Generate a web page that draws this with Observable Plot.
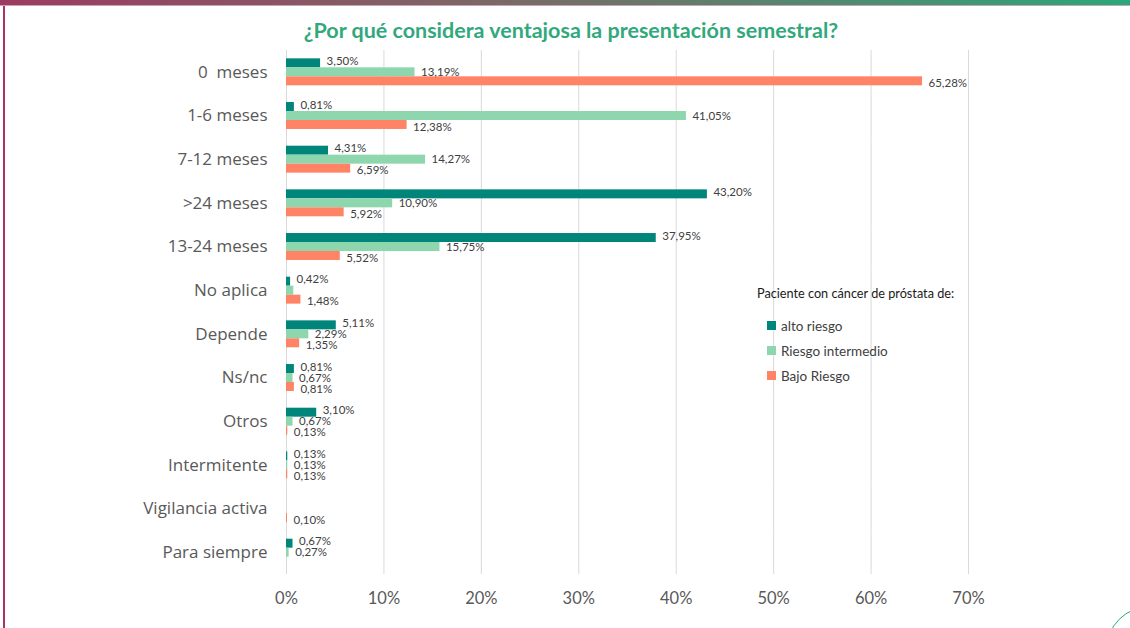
<!DOCTYPE html>
<html>
<head>
<meta charset="utf-8">
<script src="https://cdn.jsdelivr.net/npm/d3@7"></script>
<script src="https://cdn.jsdelivr.net/npm/@observablehq/plot@0.6"></script>
<style>
  html, body { margin: 0; padding: 0; background: #fff; }
  #wrap { position: relative; width: 1130px; height: 628px; overflow: hidden; background: #fff; font-family: Lato, "Open Sans", sans-serif; }
  #topbar { position: absolute; left: 0; top: 0; width: 1130px; height: 6px; background: linear-gradient(to right, #9c3b62, #7a6a66 45%, #2aa87a); border-bottom: 1px solid #c9a3b4; box-sizing: border-box; }
  #leftline { position: absolute; left: 3px; top: 6px; width: 1.5px; height: 622px; background: #a8336a; }
  #corner { position: absolute; left: 1106px; top: 606px; width: 88px; height: 88px; border-radius: 50%; border: 1.5px solid #2aa87a; box-sizing: border-box; }
  #title { position: absolute; left: 6px; top: 17px; width: 1130px; text-align: center; font-weight: bold; font-size: 21.5px; color: #32a87c; }
  #chart { position: absolute; left: 0; top: 0; }
  #legend { position: absolute; left: 757px; top: 285px; font-size: 12.7px; color: #1a1a1a; }
  #legend .lt { margin-bottom: 12px; }
  #legend .it { display: flex; align-items: center; height: 25px; margin-left: 10px; font-size: 13.5px; color: #404040; }
  #legend .sw { width: 9px; height: 9px; margin-right: 5px; }
</style>
</head>
<body>
<div id="wrap">
  <div id="chart"></div>
  <div id="topbar"></div>
  <div id="leftline"></div>
  <div id="corner"></div>
  <div id="title">¿Por qué considera ventajosa la presentación semestral?</div>
  <div id="legend"></div>
</div>
<script>
const categories = ["0\u00a0 meses", "1-6 meses", "7-12 meses", ">24 meses", "13-24 meses", "No aplica", "Depende", "Ns/nc", "Otros", "Intermitente", "Vigilancia activa", "Para siempre"];
const series = ["alto riesgo", "Riesgo intermedio", "Bajo Riesgo"];
const colors = ["#00857b", "#8ed6ad", "#ff8465"];
const alto =       [3.50, 0.81, 4.31, 43.20, 37.95, 0.42, 5.11, 0.81, 3.10, 0.13, null, 0.67];
const intermedio = [13.19, 41.05, 14.27, 10.90, 15.75, 0.75, 2.29, 0.67, 0.67, 0.13, null, 0.27];
const bajo =       [65.28, 12.38, 6.59, 5.92, 5.52, 1.48, 1.35, 0.81, 0.13, 0.13, 0.10, null];
const unlabeled = [["Riesgo intermedio", "No aplica"]];
const xTicks = [0, 10, 20, 30, 40, 50, 60, 70];

const seriesValues = [alto, intermedio, bajo];
const data = [];
series.forEach((s, si) => {
  categories.forEach((c, ci) => {
    const v = seriesValues[si][ci];
    if (v == null) return;
    const hide = unlabeled.some(([us, uc]) => us === s && uc === c);
    data.push({series: s, category: c, value: v, label: hide ? "" : v.toFixed(2).replace(".", ",") + "%"});
  });
});
const labelShift = {"alto riesgo": -2, "Riesgo intermedio": 0, "Bajo Riesgo": 2};

const chart = Plot.plot({
  width: 1130,
  height: 628,
  marginLeft: 286,
  marginRight: 162,
  marginTop: 50,
  marginBottom: 54,
  style: {fontFamily: "Lato, 'Open Sans', sans-serif", fontSize: "16px", background: "transparent", overflow: "visible"},
  x: {domain: [0, 70]},
  y: {domain: series, axis: null, paddingInner: 0, paddingOuter: 0.93, round: false},
  fy: {domain: categories, padding: 0, round: false},
  color: {domain: series, range: colors},
  marks: [
    Plot.gridX(xTicks, {stroke: "#d9d9d9", strokeOpacity: 1, strokeWidth: 1}),
    Plot.barX(data, {x: "value", y: "series", fy: "category", fill: "series"}),
    ...series.map(s => Plot.text(data.filter(d => d.series === s), {x: "value", y: "series", fy: "category", text: "label", dx: 6, dy: labelShift[s], textAnchor: "start", fontSize: 11.5, fill: "#404040"})),
    Plot.axisX(xTicks, {tickSize: 0, tickPadding: 18, tickFormat: d => d + "%", fontSize: 16.5, color: "#595959", label: null}),
    Plot.axisFy({anchor: "left", tickSize: 0, tickPadding: 19, fontSize: 17, fontFamily: "'Open Sans', sans-serif", color: "#595959", label: null})
  ]
});
document.getElementById("chart").appendChild(chart);

const legend = document.getElementById("legend");
legend.innerHTML = '<div class="lt">Paciente con cáncer de próstata de:</div>' +
  series.map((s, i) => `<div class="it"><span class="sw" style="background:${colors[i]}"></span>${s}</div>`).join("");
</script>
</body>
</html>
